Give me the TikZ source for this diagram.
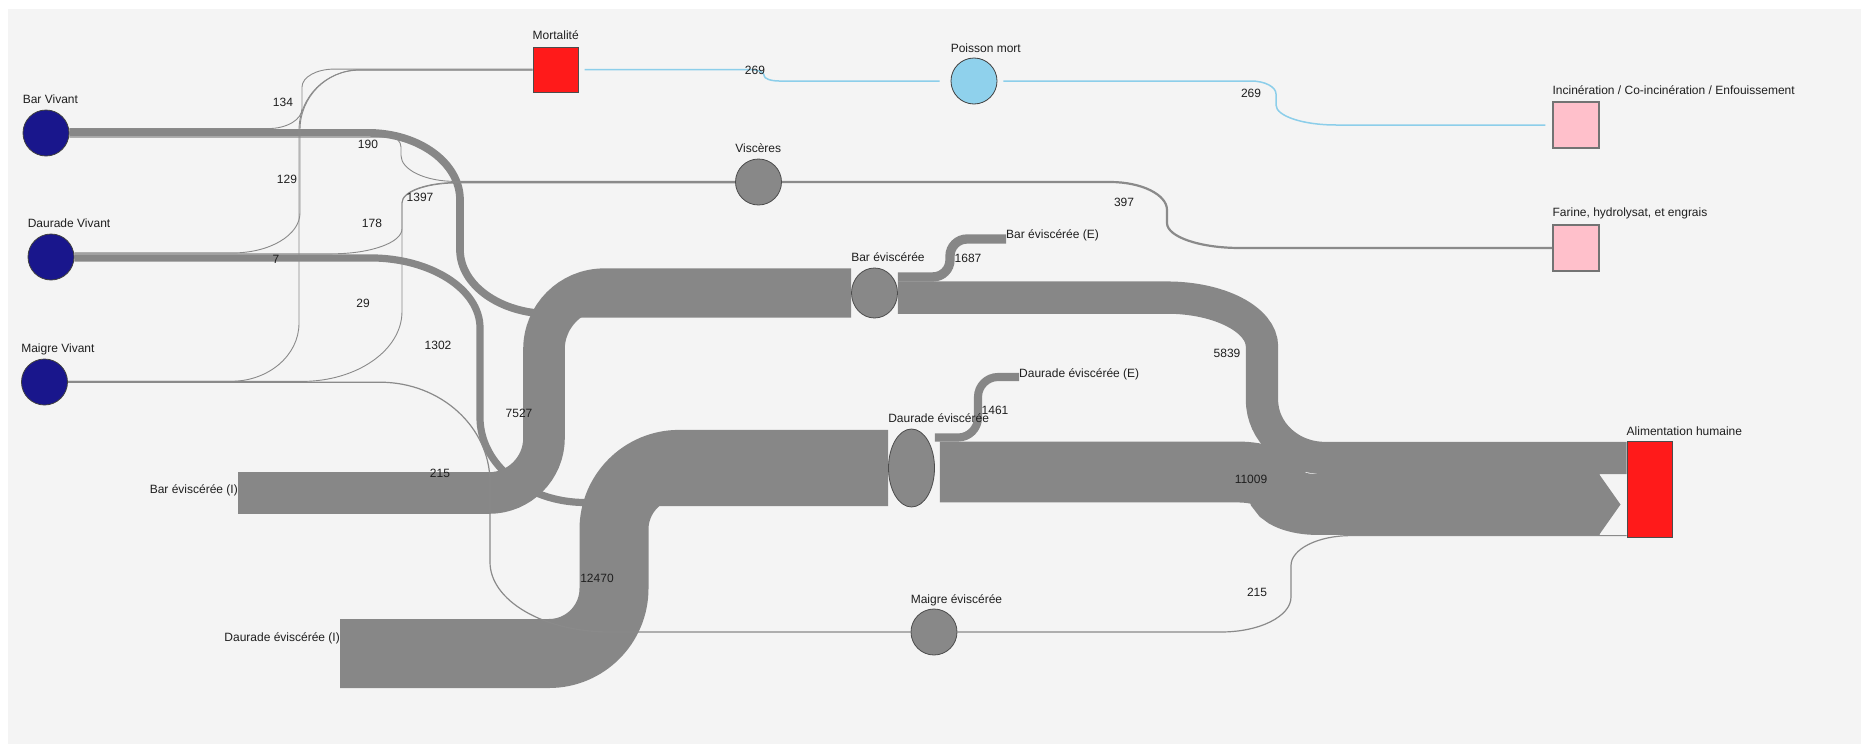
\documentclass[tikz,border=0pt]{standalone}
\usepackage{fontspec}
\setmainfont{Liberation Sans}
\usetikzlibrary{calc,shapes.geometric}

\definecolor{panel}{HTML}{F4F4F4}
\definecolor{bandgray}{HTML}{878787}
\definecolor{wiregray}{HTML}{8A8A8A}
\definecolor{livenavy}{RGB}{25,22,140}
\definecolor{alertred}{RGB}{255,26,26}
\definecolor{skyline}{RGB}{140,206,234}
\definecolor{skyfill}{RGB}{143,209,236}
\definecolor{pinkfill}{RGB}{255,192,203}
\definecolor{nodegray}{HTML}{888888}

\pgfdeclarelayer{panel}
\pgfdeclarelayer{links}
\pgfsetlayers{panel,links,main}

% rx/ry pair splitter
\def\sbsplit#1/#2\relax{\def\sbX{#1}\def\sbY{#2}}
% Sankey link: horizontal run, quarter-ellipse bend, vertical run at x=#4,
% second bend, horizontal run into the target.
% #1 style, #2 start, #3 end, #4 x of vertical run, #5 rx/ry of first bend, #6 rx/ry of second bend
\newcommand\sankeyband[6]{%
  \sbsplit#5\relax\let\sbAx\sbX\let\sbAy\sbY
  \sbsplit#6\relax\let\sbBx\sbX\let\sbBy\sbY
  \draw[#1] let \p1=(#2), \p2=(#3), \n1={(\y2-\y1)/abs(\y2-\y1)} in
    (\p1) -- ({#4pt-\sbAx*1pt},\y1)
    .. controls ({#4pt-0.448*\sbAx*1pt},\y1) and (#4pt,{\y1+\n1*0.448*\sbAy}) .. (#4pt,{\y1+\n1*\sbAy})
    -- (#4pt,{\y2-\n1*\sbBy})
    .. controls (#4pt,{\y2-\n1*0.448*\sbBy}) and ({#4pt+0.448*\sbBx*1pt},\y2) .. ({#4pt+\sbBx*1pt},\y2)
    -- (\p2);
}

\begin{document}
\begin{tikzpicture}[x=1pt,y=-1pt,
  txt/.style={font=\fontsize{12}{14}\selectfont, text=black!88, inner sep=0pt},
  num/.style={txt},
  band/.style={draw=bandgray, line cap=butt},
  wire/.style={draw=wiregray, line width=0.9pt},
  skywire/.style={draw=skyline, line width=1.5pt},
  live/.style={circle, draw=black!75, line width=0.8pt, fill=livenavy, minimum size=46pt, inner sep=0pt},
  graydot/.style={circle, draw=black!70, line width=0.8pt, fill=nodegray, minimum size=46pt, inner sep=0pt},
  grayoval/.style={ellipse, draw=black!70, line width=0.8pt, fill=nodegray, minimum width=46pt, inner sep=0pt},
  deadcirc/.style={circle, draw=black!75, line width=0.8pt, fill=skyfill, minimum size=46pt, inner sep=0pt},
  redbox/.style={rectangle, draw=black!70, line width=1pt, fill=alertred, minimum width=45pt, inner sep=0pt},
  pinkbox/.style={rectangle, draw=black!55, line width=1.2pt, fill=pinkfill, minimum width=46pt, minimum height=46pt, inner sep=0pt},
]
\useasboundingbox (0,0) rectangle (1861,744);
\begin{pgfonlayer}{panel}
  \fill[white] (0,0) rectangle (1861,744);
  \fill[panel] (8,9) rectangle (1861,744);
\end{pgfonlayer}

% ---------- nodes ----------
\node[live] (barviv) at (46,133) {};
\node[live] (daurviv) at (51,257) {};
\node[live] (maigviv) at (44.5,382) {};
\node[redbox, minimum height=45pt] (mort) at (555.5,69.5) {};
\node[deadcirc] (pmort) at (974,81) {};
\node[graydot] (visc) at (758.5,182) {};
\node[grayoval, minimum height=50pt] (barev) at (874.5,293) {};
\node[grayoval, minimum height=78pt] (daurev) at (911.5,468) {};
\node[graydot] (maigev) at (934,632) {};
\node[pinkbox] (incin) at (1576,125) {};
\node[pinkbox] (farine) at (1576,248) {};
\node[redbox, minimum height=96pt] (alim) at (1649.5,489) {};

\coordinate (bei) at (238,493);
\coordinate (dei) at (340,653.5);
\coordinate (bee) at (1006,239);
\coordinate (dee) at (1019,377);

% ---------- node labels ----------
\node[txt, anchor=base west] (barviv-t) at ($(barviv.west|-barviv.north)+(0,-6.5)$) {Bar Vivant};
\node[txt, anchor=base west] (daurviv-t) at ($(daurviv.west|-daurviv.north)+(0,-6.5)$) {Daurade Vivant};
\node[txt, anchor=base west] (maigviv-t) at ($(maigviv.west|-maigviv.north)+(0,-6.5)$) {Maigre Vivant};
\node[txt, anchor=base west] (mort-t) at ($(mort.north west)+(0,-7.5)$) {Mortalité};
\node[txt, anchor=base west] (pmort-t) at ($(pmort.west|-pmort.north)+(0,-5.5)$) {Poisson mort};
\node[txt, anchor=base west] (visc-t) at ($(visc.west|-visc.north)+(0,-6.5)$) {Viscères};
\node[txt, anchor=base west] (barev-t) at ($(barev.west|-barev.north)+(0,-6.5)$) {Bar éviscérée};
\node[txt, anchor=base west] (daurev-t) at ($(daurev.west|-daurev.north)+(0,-6.5)$) {Daurade éviscérée};
\node[txt, anchor=base west] (maigev-t) at ($(maigev.west|-maigev.north)+(0,-5.5)$) {Maigre éviscérée};
\node[txt, anchor=base west] (incin-t) at ($(incin.north west)+(0,-6.5)$) {Incinération / Co-incinération / Enfouissement};
\node[txt, anchor=base west] (farine-t) at ($(farine.north west)+(0,-7.5)$) {Farine, hydrolysat, et engrais};
\node[txt, anchor=base west] (alim-t) at ($(alim.north west)+(0,-5.5)$) {Alimentation humaine};
\node[txt, anchor=base east] (bei-t) at ($(bei)+(0,0.5)$) {Bar éviscérée (I)};
\node[txt, anchor=base east] (dei-t) at ($(dei)+(0,-12)$) {Daurade éviscérée (I)};
\node[txt, anchor=base west] (bee-t) at ($(bee)+(0,-0.5)$) {Bar éviscérée (E)};
\node[txt, anchor=base west] (dee-t) at ($(dee)+(0,0.5)$) {Daurade éviscérée (E)};

% ---------- links ----------
\begin{pgfonlayer}{links}
  % wide bands
  \sankeyband{band, line width=41.6pt}{bei}{$(barev.west)+(0,-3.8)$}{544}{55/55}{60/60}
  \sankeyband{band, line width=69pt}{dei}{$(daurev.west)+(0,-3.6)$}{614}{65/65}{65/65}
  \sankeyband{band, line width=7.7pt}{$(barviv.east)+(0,-0.15)$}{$(barev.west)+(0,20.8)$}{460}{92/67}{90/64}
  \sankeyband{band, line width=7.2pt}{$(daurviv.east)+(0,0.9)$}{$(daurev.west)+(0,34.5)$}{480}{110/70}{105/85}
  \sankeyband{band, line width=9.3pt}{$(barev.east)+(0,-16.1)$}{bee}{950}{17/17}{17/17}
  \sankeyband{band, line width=32.3pt}{$(barev.east)+(0,4.6)$}{$(alim.west)+(0,-31)$}{1262}{95/49}{63/58}
  \sankeyband{band, line width=8.1pt}{$(daurev.east)+(0,-30.5)$}{dee}{978}{20/20}{20/20}
  \sankeyband{band, line width=60.9pt}{$(daurev.east)+(5,4)$}{$(alim.west)+(-27,15.5)$}{1278}{40/16}{40/16}
  \fill[bandgray] ($(alim.west)+(-27.5,-15)$) -- ($(alim.west)+(-6,15.5)$) -- ($(alim.west)+(-27.5,46)$) -- cycle;
  % thin links
  \sankeyband{wire}{$(barviv.east)+(0,-4.4)$}{$(mort.west)+(0,-0.4)$}{302}{34/20}{32/18}
  \sankeyband{wire}{$(daurviv.east)+(0,-4.1)$}{$(mort.west)+(0,0.3)$}{300}{67/40}{60/60}
  \sankeyband{wire}{$(maigviv.east)+(0,-0.7)$}{$(mort.west)+(0,0.7)$}{299}{68/58}{60/60}
  \sankeyband{wire}{$(barviv.east)+(0,4.2)$}{$(visc.west)+(0,-0.6)$}{401}{10/10}{54/26}
  \sankeyband{wire}{$(daurviv.east)+(0,-3.2)$}{$(visc.west)+(0,0.4)$}{402}{70/25}{55/20}
  \sankeyband{wire}{$(maigviv.east)+(0,-0.6)$}{$(visc.west)+(0,1)$}{402}{100/70}{55/20}
  \sankeyband{wire, line width=1.2pt}{$(maigviv.east)+(0,0.2)$}{maigev.west}{490}{110/100}{120/70}
  \sankeyband{wire, line width=1.2pt}{maigev.east}{$(alim.west)+(0,46.6)$}{1291}{70/35}{60/30}
  \sankeyband{wire, line width=2.2pt}{visc.east}{farine.west}{1167}{57/28}{73/25}
  \sankeyband{skywire}{$(mort.east)+(6,0)$}{$(pmort.west)+(-11,0)$}{764}{15/5.5}{15/5.5}
  \sankeyband{skywire}{$(pmort.east)+(6,0)$}{$(incin.west)+(-7,0)$}{1276}{25/13}{60/20}
\end{pgfonlayer}

% ---------- flow values ----------
\node[num] (v134) at (283,102) {134};
\node[num] (v190) at (368,144) {190};
\node[num] (v129) at (287,179) {129};
\node[num] (v1397) at (420,197) {1397};
\node[num] (v178) at (372,223) {178};
\node[num] (v7) at (276,259) {7};
\node[num] (v29) at (363,303) {29};
\node[num] (v1302) at (438,345) {1302};
\node[num] (v7527) at (519,413) {7527};
\node[num] (v215a) at (440,473) {215};
\node[num] (v12470) at (597,578) {12470};
\node[num] (v269a) at (755,70) {269};
\node[num] (v269b) at (1251,93) {269};
\node[num] (v397) at (1124,202) {397};
\node[num] (v1687) at (968,258) {1687};
\node[num] (v1461) at (995,410) {1461};
\node[num] (v5839) at (1227,353) {5839};
\node[num] (v11009) at (1251,479) {11009};
\node[num] (v215b) at (1257,592) {215};
\end{tikzpicture}
\end{document}
